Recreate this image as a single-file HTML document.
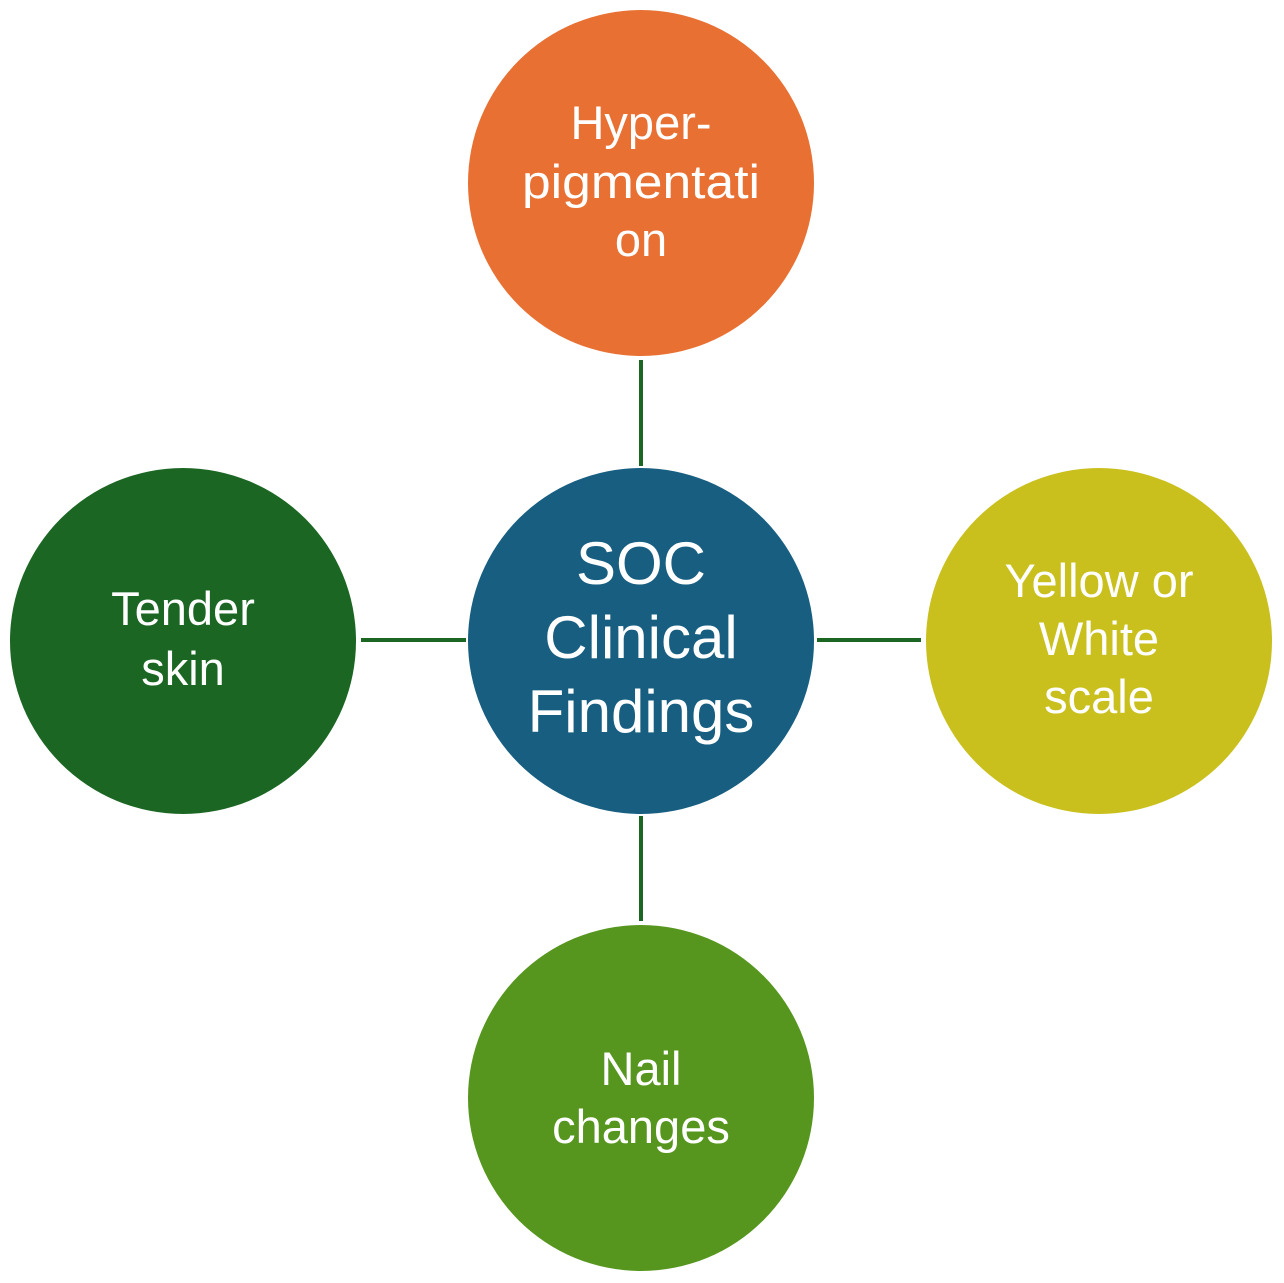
<!DOCTYPE html>
<html><head><meta charset="utf-8"><style>html,body{margin:0;padding:0;background:#fff}svg{display:block}</style></head>
<body>
<svg width="1284" height="1283" viewBox="0 0 1284 1283" xmlns="http://www.w3.org/2000/svg">
<g stroke="#1b6623" stroke-width="4">
<line x1="641" y1="360" x2="641" y2="466"/>
<line x1="641" y1="816" x2="641" y2="921"/>
<line x1="361" y1="640" x2="466" y2="640"/>
<line x1="817" y1="640" x2="921" y2="640"/>
</g>
<circle cx="641" cy="183" r="173" fill="#e87033"/>
<circle cx="641" cy="641" r="173" fill="#175e80"/>
<circle cx="641" cy="1098" r="173" fill="#57961e"/>
<circle cx="183" cy="641" r="173" fill="#1b6623"/>
<circle cx="1099" cy="641" r="173" fill="#c9c01e"/>
<g fill="#fff" font-family="Liberation Sans, sans-serif" text-anchor="middle" font-size="47">
<text x="641" y="139">Hyper-</text>
<text x="641" y="198" textLength="238" lengthAdjust="spacingAndGlyphs">pigmentati</text>
<text x="641" y="256">on</text>
<text x="1099" y="597">Yellow or</text>
<text x="1099" y="655">White</text>
<text x="1099" y="713">scale</text>
<text x="183" y="625">Tender</text>
<text x="183" y="685">skin</text>
<text x="641" y="1085">Nail</text>
<text x="641" y="1143">changes</text>
</g>
<g fill="#fff" font-family="Liberation Sans, sans-serif" text-anchor="middle" font-size="60">
<text x="641" y="584">SOC</text>
<text x="641" y="658">Clinical</text>
<text x="641" y="732">Findings</text>
</g>
</svg>
</body></html>
